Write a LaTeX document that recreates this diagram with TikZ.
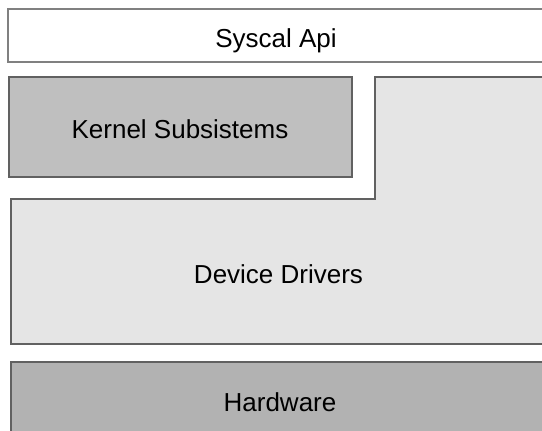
\documentclass[tikz,border=0pt]{standalone}
\usepackage{fontspec}
\setmainfont{Liberation Sans}
\begin{document}
\begin{tikzpicture}[x=1pt,y=-1pt,font=\fontsize{26}{30}\selectfont,
    layer/.style={draw=black!62,line width=1.5pt},
    label/.style={anchor=base}]
    \useasboundingbox (0,0) rectangle (542,431);
    \clip (0,0) rectangle (542,431);
    % layers, from top to bottom
    \draw[layer,draw=black!50,fill=white] (8,9) rectangle (546,62);
    \draw[layer,fill=black!25] (9,77) rectangle (352,177);
    \draw[layer,fill=black!10] (11,199) -- (375,199) -- (375,77) -- (549,77) -- (549,344) -- (11,344) -- cycle;
    \draw[layer,fill=black!30] (11,362) rectangle (549,441);
    % texts
    \node[label] (api) at (276,48) {Syscal Api};
    \node[label] (kernel) at (180,138) {Kernel Subsistems};
    \node[label] (drivers) at (278.5,283) {Device Drivers};
    \node[label] (hw) at (280,411) {Hardware};
\end{tikzpicture}
\end{document}
